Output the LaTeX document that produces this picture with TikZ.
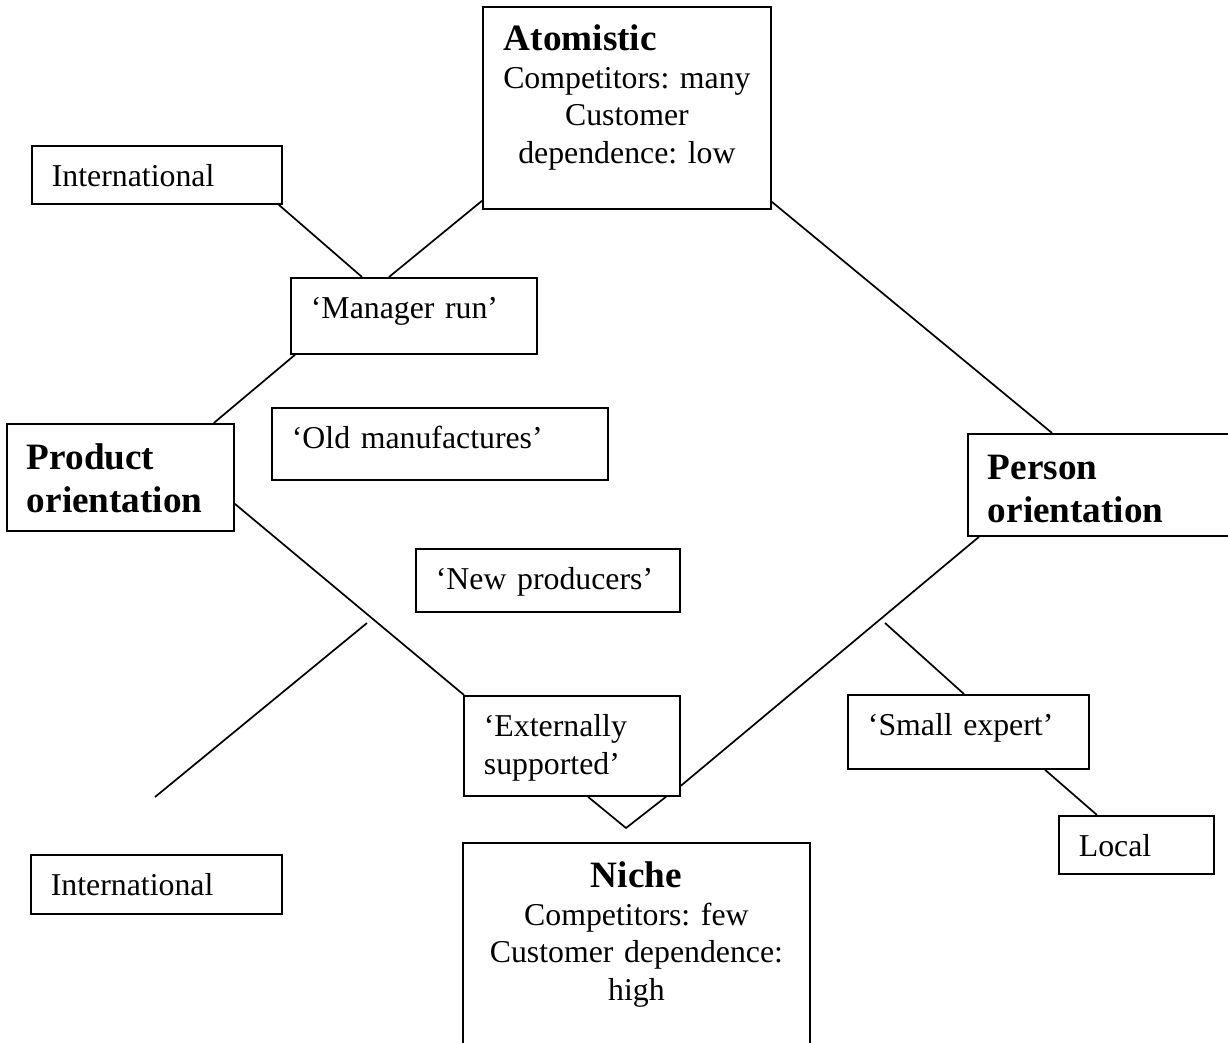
\documentclass[tikz,border=0pt]{standalone}
\usepackage{fontspec}
\setmainfont{Liberation Serif}
\frenchspacing
\newcommand{\txtfont}{\fontsize{31.8}{37.5}\selectfont}
\newcommand{\hdfont}{\fontsize{37.2}{43}\selectfont\bfseries}

\begin{document}
\begin{tikzpicture}[x=1pt,y=-1pt]
\tikzstyle{textbox}=[draw,line width=1.8pt,anchor=north west,inner xsep=20pt,inner ysep=0pt,
                     align=left,text height=41pt,font=\txtfont]
\tikzstyle{headbox}=[textbox,text height=46pt,font=\hdfont]
\tikzstyle{link}=[line width=1.7pt]
\clip (0,0) rectangle (1228,1042);
% market types
\node [textbox,align=center,inner xsep=10pt,text width=268pt,text height=44pt,text depth=158pt] (atom) at (482,6)
  {\makebox[\linewidth][l]{\hspace*{11pt}\hdfont Atomistic}\\Competitors: many\\Customer\\dependence: low};
\node [textbox,align=center,text width=307pt,text height=45pt,text depth=195pt] (niche) at (462,842)
  {{\hdfont Niche}\\Competitors: few\\Customer dependence:\\high};
% orientations
\node [headbox,text width=187pt,text depth=61pt] (prod) at (6,423) {Product\\orientation};
\node [headbox,text width=230pt,text depth=56pt] (person) at (967,433) {Person\\orientation};
% firm types
\node [textbox,text width=206pt,text depth=35pt] (mgr) at (290,277) {‘Manager run’};
\node [textbox,text width=296pt,text depth=31pt] (old) at (271,407) {‘Old manufactures’};
\node [textbox,text width=224pt,text depth=22pt] (newp) at (415,548) {‘New producers’};
\node [textbox,text width=176pt,text depth=59pt] (ext) at (463,695) {‘Externally\\supported’};
\node [textbox,text width=201pt,text depth=33pt] (small) at (847,694) {‘Small expert’};
% scope
\node [textbox,text width=210pt,text depth=17pt] (intl1) at (31,145) {International};
\node [textbox,text width=211pt,text depth=18pt] (intl2) at (30,854) {International};
\node [textbox,text width=115pt,text depth=17pt] (local) at (1058,815) {Local};
\coordinate (f1) at (367,623);
\coordinate (f2) at (155,797);
\coordinate (f3) at (885,623);
\coordinate (vtip) at (626,828);
\draw[link] ([xshift=-4pt]intl1.south east) -- ([xshift=72pt]mgr.north west);
\draw[link] ([yshift=9pt]atom.south west) -- ([xshift=99pt]mgr.north west);
\draw[link] ([xshift=5pt]mgr.south west) -- ([xshift=-21pt]prod.north east);
\draw[link] ([yshift=8pt]atom.south east) -- ([xshift=85pt]person.north west);
\draw[link] ([yshift=28pt]prod.south east) -- ([xshift=1pt]ext.north west);
\draw[link] (f1) -- (f2);
\draw[link] ([xshift=12pt]person.south west) -- ([yshift=11pt]ext.south east);
\draw[link] (f3) -- ([xshift=117pt]small.north west);
\draw[link] ([xshift=198pt]small.south west) -- ([xshift=39pt]local.north west);
\draw[link] ([xshift=125pt]ext.south west) -- (vtip) -- ([xshift=203pt]ext.south west);
\end{tikzpicture}
\end{document}
